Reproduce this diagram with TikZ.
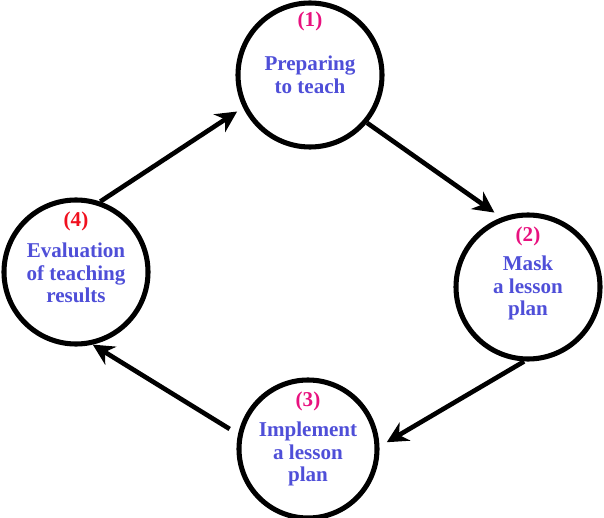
\documentclass[tikz,border=0pt]{standalone}
\usepackage{fontspec}
\setmainfont{Liberation Serif}
\usetikzlibrary{arrows.meta, positioning}
\definecolor{cyblue}{HTML}{4F4FD8}
\definecolor{cypink}{HTML}{E8117F}
\definecolor{cyred}{HTML}{F0101E}

\begin{document}
\begin{tikzpicture}[font=\fontsize{15}{16}\selectfont\bfseries,
          stage/.style={circle, draw=black, line width=3.6pt, minimum size=3.6cm, inner sep=0pt, align=center, text=cyblue},
          num/.style={text=cypink, inner sep=1pt},
          arr/.style={-{Stealth[length=15pt, width=15pt]}, line width=3.3pt}]
          \useasboundingbox (0,0) rectangle (15.1,12.925);
          \node[stage] (c1) at (7.75,11.05) {Preparing\\to teach};
          \node[stage] (c2) at (13.2,5.75) {\\[-4pt]Mask\\a lesson\\plan};
          \node[stage, minimum size=3.45cm] (c3) at (7.7,1.7) {\\[2pt]Implement\\a lesson\\plan};
          \node[stage] (c4) at (1.9,6.125) {\\[-4pt]Evaluation\\of teaching\\results};
          \node[num, above=1.05cm of c1.center] (n1) {(1)};
          \node[num, above=0.98cm of c2.center] (n2) {(2)};
          \node[num, above=0.9cm of c3.center] (n3) {(3)};
          \node[num, text=cyred, above=0.98cm of c4.center] (n4) {(4)};
          % cycle arrows
          \draw[arr, shorten >=6pt] (c1.320) -- (c2.111);
          \draw[arr, shorten >=6pt] (c2.267) -- (c3.2);
          \draw[arr, shorten <=7pt] (c3.168) -- (c4.283);
          \draw[arr, shorten >=5pt] (c4.71) -- (c1.206);
        \end{tikzpicture}
\end{document}
